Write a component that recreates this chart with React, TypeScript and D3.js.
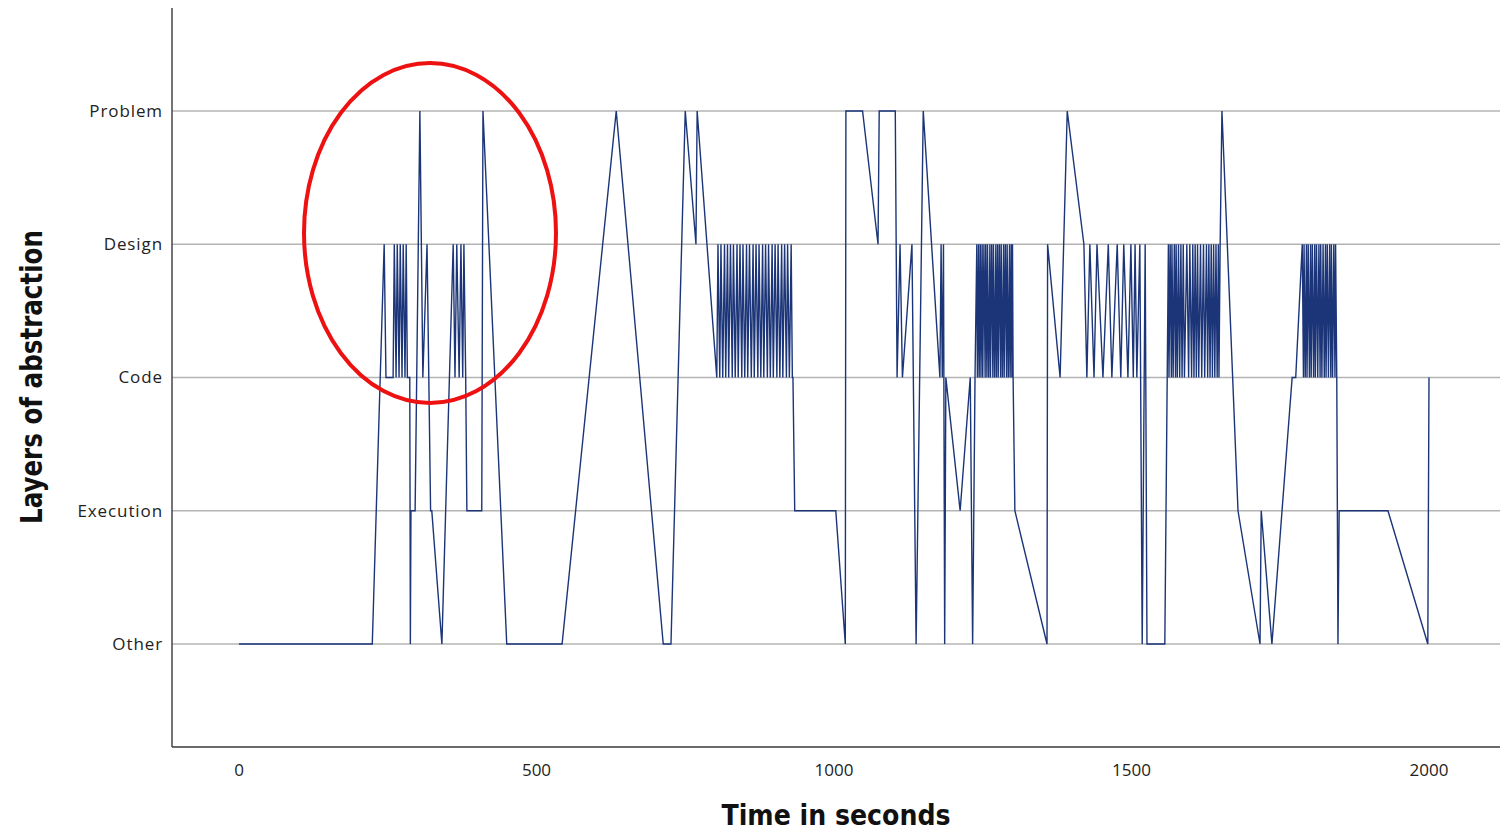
import React from "react";
import * as d3 from "d3";

// Layers of abstraction (bottom to top)
const layerNames = ["Other", "Execution", "Code", "Design", "Problem"];
const layerCode: Record<string, number> = { O: 0, E: 1, C: 2, D: 3, P: 4 };
const xTicks = [0, 500, 1000, 1500, 2000];

// [time in seconds, layer code]
const phaseStart: [number, string][] = [
  [0, "O"], [224, "O"], [244, "D"], [247, "C"], [259, "C"],
  [261, "D"], [264, "C"], [266, "D"], [269, "C"], [271, "D"], [274, "C"], [276, "D"], [279, "C"], [281, "D"], [283, "C"],
  [287, "C"], [288, "O"], [289, "E"], [296, "E"], [304, "P"], [309, "C"], [316, "D"], [319, "C"], [322, "E"], [324, "E"],
  [341, "O"], [360, "D"], [363, "C"], [366, "D"], [370, "C"], [373, "D"], [376, "C"], [378, "D"], [381, "C"],
  [383, "E"], [408, "E"], [410, "P"], [450, "O"], [543, "O"], [634, "P"], [713, "O"], [726, "O"], [750, "P"],
  [768, "D"], [770, "P"],
];

const burstA: [number, string][] = [
  [803, "C"], [805, "D"], [808, "C"], [810, "D"], [813, "C"], [816, "D"], [818, "C"], [821, "D"], [823, "C"], [826, "D"],
  [829, "C"], [831, "D"], [834, "C"], [837, "D"], [839, "C"], [842, "D"], [845, "C"], [847, "D"], [850, "C"], [853, "D"],
  [855, "C"], [858, "D"], [861, "C"], [864, "D"], [866, "C"], [869, "D"], [872, "C"], [874, "D"], [877, "C"], [880, "D"],
  [882, "C"], [885, "D"], [888, "C"], [890, "D"], [893, "C"], [896, "D"], [898, "C"], [901, "D"], [904, "C"], [906, "D"],
  [909, "C"], [912, "D"], [914, "C"], [917, "D"], [920, "C"], [922, "D"], [925, "C"], [928, "D"], [930, "C"], [931, "C"],
];

const phaseMiddle: [number, string][] = [
  [934, "E"], [1003, "E"], [1019, "O"], [1020, "P"], [1048, "P"], [1074, "D"], [1076, "P"], [1103, "P"],
  [1106, "C"], [1111, "D"], [1115, "C"], [1131, "D"], [1138, "O"], [1150, "P"], [1178, "C"], [1180, "D"],
  [1182, "C"], [1184, "D"], [1186, "O"], [1188, "C"], [1212, "E"], [1229, "C"], [1233, "O"], [1237, "C"],
];

const burstB: [number, string][] = [
  [1240, "D"], [1241, "C"], [1243, "D"], [1244, "C"], [1246, "D"], [1247, "C"], [1249, "D"], [1250, "C"], [1252, "D"],
  [1254, "C"], [1255, "D"], [1257, "C"], [1258, "D"], [1260, "C"], [1262, "D"], [1263, "C"], [1265, "D"], [1267, "C"],
  [1268, "D"], [1270, "C"], [1272, "D"], [1273, "C"], [1275, "D"], [1276, "C"], [1278, "D"], [1280, "C"], [1281, "D"],
  [1283, "C"], [1285, "D"], [1286, "C"], [1288, "D"], [1290, "C"], [1291, "D"], [1293, "C"], [1295, "D"], [1296, "C"],
  [1298, "D"], [1299, "C"], [1300, "D"], [1301, "C"],
];

const phaseLate: [number, string][] = [
  [1304, "E"], [1358, "O"], [1359, "D"], [1380, "C"], [1392, "P"], [1420, "D"], [1425, "C"], [1430, "D"], [1437, "C"],
  [1442, "D"], [1452, "C"], [1461, "D"], [1467, "C"], [1476, "D"], [1482, "C"], [1487, "D"], [1494, "C"], [1499, "D"],
  [1503, "C"], [1506, "D"], [1509, "C"], [1514, "D"], [1518, "O"], [1523, "D"], [1526, "O"], [1556, "O"], [1560, "C"],
];

const burstD: [number, string][] = [
  [1562, "D"], [1563, "C"], [1565, "D"], [1567, "C"], [1568, "D"], [1570, "C"], [1572, "D"], [1574, "C"], [1575, "D"],
  [1577, "C"], [1579, "D"], [1581, "C"], [1583, "D"], [1585, "C"], [1587, "D"], [1589, "C"], [1593, "D"], [1596, "C"],
  [1598, "D"], [1601, "C"], [1603, "D"], [1605, "C"], [1607, "D"], [1609, "C"], [1611, "D"], [1613, "C"], [1616, "D"],
  [1618, "C"], [1621, "D"], [1623, "C"], [1626, "D"], [1628, "C"], [1630, "D"], [1632, "C"], [1634, "D"], [1636, "C"],
  [1638, "D"], [1640, "C"], [1642, "D"], [1644, "C"], [1646, "D"], [1647, "C"], [1649, "D"],
];

const phaseEnd1: [number, string][] = [
  [1652, "P"], [1679, "E"], [1716, "O"], [1718, "E"], [1736, "O"], [1770, "C"], [1776, "C"],
];

const burstE: [number, string][] = [
  [1787, "D"], [1789, "C"], [1790, "D"], [1792, "C"], [1794, "D"], [1795, "C"], [1797, "D"], [1799, "C"], [1801, "D"],
  [1802, "C"], [1804, "D"], [1806, "C"], [1808, "D"], [1809, "C"], [1811, "D"], [1813, "C"], [1815, "D"], [1817, "C"],
  [1818, "D"], [1820, "C"], [1822, "D"], [1824, "C"], [1826, "D"], [1827, "C"], [1829, "D"], [1831, "C"], [1833, "D"],
  [1835, "C"], [1836, "D"], [1838, "C"], [1840, "D"], [1842, "C"], [1843, "D"], [1845, "C"],
];

const phaseEnd2: [number, string][] = [
  [1847, "O"], [1849, "E"], [1931, "E"], [1998, "O"], [2000, "C"],
];

const series = [
  ...phaseStart, ...burstA, ...phaseMiddle, ...burstB, ...phaseLate, ...burstD, ...phaseEnd1, ...burstE, ...phaseEnd2,
];

export default function App() {
  const W = 1500, H = 833;
  const axisLeft = 172, axisRight = 1500, axisTop = 8, axisBottom = 747;
  const x = d3.scaleLinear().domain([0, 2000]).range([239, 1429]);
  const y = d3.scaleLinear().domain([0, 4]).range([644, 111]);
  const line = d3
    .line<[number, string]>()
    .x((d) => x(d[0]))
    .y((d) => y(layerCode[d[1]]));

  return (
    <svg width={W} height={H} style={{ display: "block", position: "absolute", left: 0, top: 0, background: "#fff" }}>
      {layerNames.map((n, i) => (
        <line key={n} x1={axisLeft} x2={axisRight} y1={y(i)} y2={y(i)} stroke="#b4b4b4" strokeWidth={1.6} />
      ))}
      <path d={line(series) || ""} fill="none" stroke="#1b3578" strokeWidth={1.4} strokeLinejoin="miter" />
      <line x1={axisLeft} x2={axisLeft} y1={axisTop} y2={axisBottom} stroke="#3a3a3a" strokeWidth={1.4} />
      <line x1={axisLeft} x2={axisRight} y1={axisBottom} y2={axisBottom} stroke="#3a3a3a" strokeWidth={1.4} />
      {layerNames.map((n, i) => (
        <text
          key={n}
          x={163}
          y={y(i)}
          dy="0.35em"
          textAnchor="end"
          fontFamily="'Open Sans', sans-serif"
          fontSize={17}
          letterSpacing={0.9}
          fill="#222"
        >
          {n}
        </text>
      ))}
      {xTicks.map((t) => (
        <text
          key={t}
          x={x(t)}
          y={776}
          textAnchor="middle"
          fontFamily="'Open Sans', sans-serif"
          fontSize={17}
          fill="#222"
        >
          {t}
        </text>
      ))}
      <text
        transform={`translate(42,377) rotate(-90)`}
        textAnchor="middle"
        fontFamily="'Liberation Sans Narrow', 'DejaVu Sans Condensed', sans-serif"
        fontWeight="bold"
        fontSize={30}
        textLength={294}
        lengthAdjust="spacingAndGlyphs"
        fill="#111"
      >
        Layers of abstraction
      </text>
      <text
        x={836}
        y={825}
        textAnchor="middle"
        fontFamily="'Liberation Sans Narrow', 'DejaVu Sans Condensed', sans-serif"
        fontWeight="bold"
        fontSize={28}
        textLength={229}
        lengthAdjust="spacingAndGlyphs"
        fill="#111"
      >
        Time in seconds
      </text>
      <ellipse cx={430} cy={233} rx={126} ry={170} fill="none" stroke="#ee1111" strokeWidth={4} />
    </svg>
  );
}
